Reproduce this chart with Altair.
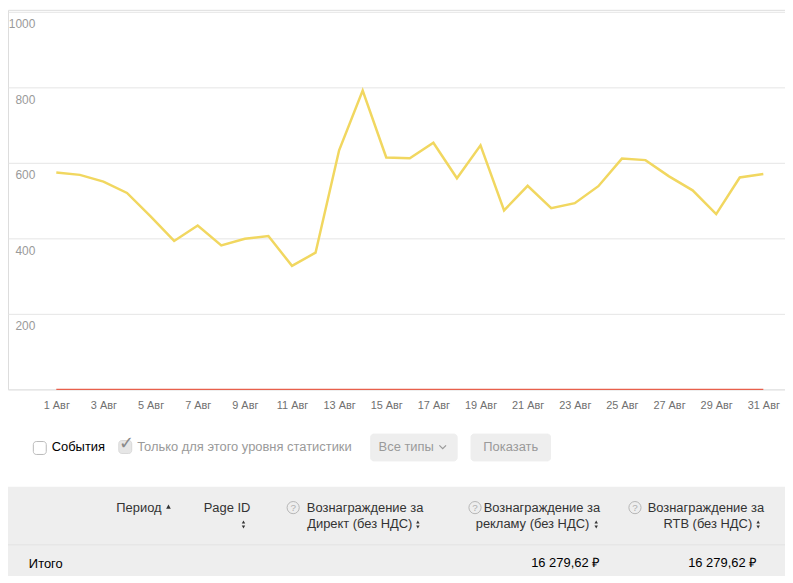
import altair as alt
import pandas as pd

# ---------------- chart data ----------------
days = list(range(1, 32))
reward = [574, 568, 550, 520, 458, 393, 434, 381, 399, 406, 327, 362, 633, 791,
          614, 612, 653, 559, 646, 474, 539, 480, 493, 538, 611, 607, 564, 527,
          464, 561, 570]
events = [0, 0, 0, 0, 0, 0, 0, 0, 0, 0, 0, 0, 0, 0, 0, 0, 0, 0, 0, 0, 0, 0, 0,
          0, 0, 0, 0, 0, 0, 0, 0]
y_ticks = [0, 200, 400, 600, 800, 1000]
x_ticks = [1, 3, 5, 7, 9, 11, 13, 15, 17, 19, 21, 23, 25, 27, 29, 31]
month = "Авг"

# ---------------- UI texts below the chart ----------------
ui_texts = ["События", "Только для этого уровня статистики", "Все типы", "Показать",
            "Период", "Page ID",
            "Вознаграждение за", "Директ (без НДС)",
            "Вознаграждение за", "рекламу (без НДС)",
            "Вознаграждение за", "RTB (без НДС)",
            "Итого", "16 279,62 ₽", "16 279,62 ₽"]

W, H = 782, 382
OFF = 8  # page margin / plot origin

FONT = "Arial, Liberation Sans, sans-serif"

df = pd.DataFrame({"day": days, "reward": reward, "events": events})

xs = alt.Scale(domain=[-1.05, 31.92], nice=False, zero=False)
ys = alt.Scale(domain=[0, 1005], nice=False)

base = alt.Chart(df)

reward_line = base.mark_line(color="#f1d760", strokeWidth=2.5).encode(
    x=alt.X("day:Q", scale=xs,
            axis=alt.Axis(values=x_ticks, labelExpr=f"datum.value + ' {month}'",
                          grid=False, domain=False, ticks=False, tickSize=0,
                          labelPadding=10, labelFontSize=11, labelColor="#707070",
                          labelFont=FONT, title=None, labelFlush=False)),
    y=alt.Y("reward:Q", scale=ys,
            axis=alt.Axis(values=y_ticks, grid=True, gridColor="#e5e5e5",
                          domain=False, ticks=False, tickSize=0,
                          labelExpr="datum.value == 0 ? '' : '' + datum.value",
                          labelPadding=-27, labelOffset=12, labelAlign="right",
                          labelBaseline="middle", labelFontSize=12,
                          labelColor="#9a9a9a", labelFont=FONT, title=None)),
)

events_line = base.mark_line(color="#e8604c", strokeWidth=1.5).encode(
    x=alt.X("day:Q", scale=xs),
    y=alt.Y("events:Q", scale=ys),
)


def px(v):
    return v - OFF


# text layout (page coordinates)
txt_rows = [
    (ui_texts[0], 52, 448, "left", "#000000", 13),
    (ui_texts[1], 138, 448, "left", "#9a9a9a", 13),
    (ui_texts[2], 381, 448, "left", "#9a9a9a", 13),
    (ui_texts[4], 117, 509, "left", "#333333", 13),
    (ui_texts[5], 205, 509, "left", "#333333", 13),
    (ui_texts[12], 29, 566, "left", "#000000", 13),
    (ui_texts[3], 514, 448, "center", "#9a9a9a", 13),
    ("?", 295, 509.5, "center", "#b0b0b0", 10),
    ("?", 478, 509.5, "center", "#b0b0b0", 10),
    ("?", 639, 509.5, "center", "#b0b0b0", 10),
    ("✓", 127, 445, "center", "#8a8a8a", 18),
    (ui_texts[6], 426, 509, "right", "#333333", 13),
    (ui_texts[7], 415, 526, "right", "#333333", 13),
    (ui_texts[8], 604, 509, "right", "#333333", 13),
    (ui_texts[9], 593, 526, "right", "#333333", 13),
    (ui_texts[10], 769, 509, "right", "#333333", 13),
    (ui_texts[11], 757, 526, "right", "#333333", 13),
    (ui_texts[13], 604, 565, "right", "#000000", 13),
    (ui_texts[14], 762, 565, "right", "#000000", 13),
]
tdf = pd.DataFrame(txt_rows, columns=["t", "x", "y", "align", "c", "s"])
tdf["x"] = tdf["x"].map(px)
tdf["y"] = tdf["y"].map(px)

text_layers = []
for al in ["left", "center", "right"]:
    sub = tdf[tdf["align"] == al]
    text_layers.append(
        alt.Chart(sub).mark_text(align=al, baseline="middle", font=FONT).encode(
            x=alt.X("x:Q", scale=None, axis=None),
            y=alt.Y("y:Q", scale=None, axis=None),
            text="t:N",
            color=alt.Color("c:N", scale=None),
            size=alt.Size("s:Q", scale=None),
        )
    )

# rectangles (page coordinates): x, x2, y, y2, fill, stroke
rect_rows = [
    (8, 790, 488, 580, "#eeeeee", "#eeeeee"),
    (8, 790, 546, 547, "#dddddd", "#dddddd"),
]
round_rows = [
    (373, 460, 435, 462, "#eeeeee", "#eeeeee"),
    (474, 554, 435, 462, "#eeeeee", "#eeeeee"),
    (33.5, 46.5, 442.5, 455.5, "#ffffff", "#b8b8b8"),
    (119.5, 132.5, 441.5, 454.5, "#e6e6e6", "#d8d8d8"),
]


def rect_df(rows):
    d = pd.DataFrame(rows, columns=["x", "x2", "y", "y2", "f", "st"])
    for k in ["x", "x2", "y", "y2"]:
        d[k] = d[k].map(px)
    return d


rect_enc = dict(
    x=alt.X("x:Q", scale=None, axis=None),
    x2="x2:Q",
    y=alt.Y("y:Q", scale=None, axis=None),
    y2="y2:Q",
    fill=alt.Fill("f:N", scale=None),
    stroke=alt.Stroke("st:N", scale=None),
)
rects = alt.Chart(rect_df(rect_rows)).mark_rect(strokeWidth=0).encode(**rect_enc)
rounded = alt.Chart(rect_df(round_rows)).mark_rect(cornerRadius=3, strokeWidth=1).encode(**rect_enc)

# small icons: sort arrows, help circles, chevron
pt_rows = [
    (169.5, 508, "triangle-up", 22),
    (245, 523.5, "triangle-up", 12), (245, 528.5, "triangle-down", 12),
    (420.5, 523.5, "triangle-up", 12), (420.5, 528.5, "triangle-down", 12),
    (600, 523.5, "triangle-up", 12), (600, 528.5, "triangle-down", 12),
    (763, 523.5, "triangle-up", 12), (763, 528.5, "triangle-down", 12),
]
pdf = pd.DataFrame(pt_rows, columns=["x", "y", "shape", "s"])
pdf["x"] = pdf["x"].map(px)
pdf["y"] = pdf["y"].map(px)
arrows = alt.Chart(pdf).mark_point(filled=True, color="#333333", opacity=1).encode(
    x=alt.X("x:Q", scale=None, axis=None),
    y=alt.Y("y:Q", scale=None, axis=None),
    shape=alt.Shape("shape:N", scale=None),
    size=alt.Size("s:Q", scale=None),
)

circ = pd.DataFrame({"x": [px(295), px(478), px(639)], "y": [px(509), px(509), px(509)]})
circles = alt.Chart(circ).mark_point(shape="circle", filled=False, size=150,
                                     color="#b5b5b5", strokeWidth=1, opacity=1).encode(
    x=alt.X("x:Q", scale=None, axis=None),
    y=alt.Y("y:Q", scale=None, axis=None),
)

chev = pd.DataFrame({"x": [px(445.5)], "y": [px(448)]})
chevron = alt.Chart(chev).mark_point(shape="M-1,-0.5L0,0.5L1,-0.5", filled=False,
                                     size=45, color="#999999", strokeWidth=1.2,
                                     opacity=1).encode(
    x=alt.X("x:Q", scale=None, axis=None),
    y=alt.Y("y:Q", scale=None, axis=None),
)

chart = alt.layer(
    reward_line, events_line, rects, rounded, circles, arrows, chevron, *text_layers
).properties(
    width=W, height=H,
    autosize=alt.AutoSizeParams(type="none"),
    padding={"left": 0, "top": 0, "right": 0, "bottom": 186},
).configure_view(strokeWidth=0).configure(background="#ffffff")

chart.save("out.html", embed_options={"renderer": "svg", "actions": False})
